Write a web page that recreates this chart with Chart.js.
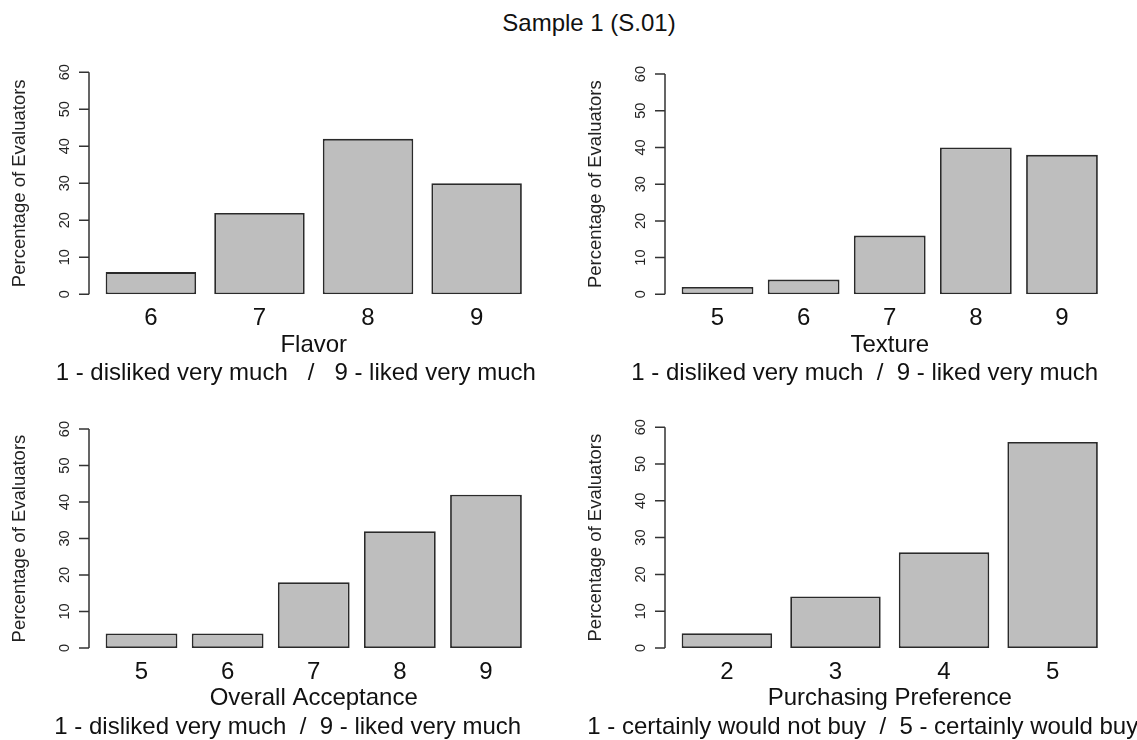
<!DOCTYPE html>
<html>
<head>
<meta charset="utf-8">
<title>Sample 1 (S.01)</title>
<script src="https://cdn.jsdelivr.net/npm/chart.js@4.4.0/dist/chart.umd.min.js"></script>
<style>
  html, body { margin: 0; padding: 0; background: #fff; overflow: hidden; }
  body { width: 1137px; height: 740px; position: relative; font-family: "Liberation Sans", Arial, sans-serif; }
  canvas { position: absolute; }
  .txt { position: absolute; white-space: pre; color: #111; font-size: 24px; line-height: 28px; text-align: center; width: 600px; }
</style>
</head>
<body>
<div class="txt" style="left:289px; top:9px;">Sample 1 (S.01)</div>

<canvas id="flavor" width="568" height="340" style="left:0; top:40px;"></canvas>
<canvas id="texture" width="569" height="340" style="left:568px; top:40px;"></canvas>
<canvas id="overall" width="568" height="345" style="left:0; top:395px;"></canvas>
<canvas id="purchase" width="569" height="345" style="left:568px; top:395px;"></canvas>

<script>
// values (percentage of evaluators)
const flavorLabels = ['6', '7', '8', '9'];
const flavorValues = [6, 22, 42, 30];

const textureLabels = ['5', '6', '7', '8', '9'];
const textureValues = [2, 4, 16, 40, 38];

const overallLabels = ['5', '6', '7', '8', '9'];
const overallValues = [4, 4, 18, 32, 42];

const purchaseLabels = ['2', '3', '4', '5'];
const purchaseValues = [4, 14, 26, 56];

const yTicks = [0, 10, 20, 30, 40, 50, 60];
const yTitle = 'Percentage of Evaluators';

const likedScale = '1 - disliked very much  /  9 - liked very much';
const buyScale = '1 - certainly would not buy  /  5 - certainly would buy';

const panels = [
    { id: 'flavor', name: 'Flavor', note: '1 - disliked very much   /   9 - liked very much', noteShift: -18,
      labels: flavorLabels, values: flavorValues, left: 0, top: 40, axisX: 89, zeroY: 294.3, maxY: 71.7 },
    { id: 'texture', name: 'Texture', note: likedScale, noteShift: -25,
      labels: textureLabels, values: textureValues, left: 568, top: 40, axisX: 665, zeroY: 294.3, maxY: 71.7 },
    { id: 'overall', name: 'Overall Acceptance', note: likedScale, noteShift: -26,
      labels: overallLabels, values: overallValues, left: 0, top: 395, axisX: 89, zeroY: 648, maxY: 425 },
    { id: 'purchase', name: 'Purchasing Preference', note: buyScale, noteShift: -27,
      labels: purchaseLabels, values: purchaseValues, left: 568, top: 395, axisX: 665, zeroY: 648, maxY: 425 }
];

const FONT = '"Liberation Sans", Arial, sans-serif';
const REGION_W = 449.5;   // width of the R plot region
const XAXIS_H = 65;
const TICK_FONT = 14.5;
const YTITLE_FONT = 18.5;

// gap between the R style y axis line and the first category slot
function axisGap(n, width) {
    const range = 1.2 * n - 0.2;
    const unit = width / (1.08 * range);
    return (width - 1.2 * n * unit) / 2;
}

const rAxis = {
    id: 'rAxis',
    afterDraw(chart) {
        const ctx = chart.ctx;
        const area = chart.chartArea;
        const y = chart.scales.y;
        const gap = axisGap(chart.data.labels.length, REGION_W);
        const ax = area.left - gap;
        ctx.save();
        ctx.strokeStyle = '#333';
        ctx.lineWidth = 1.5;
        ctx.beginPath();
        ctx.moveTo(ax, y.getPixelForValue(yTicks[0]));
        ctx.lineTo(ax, y.getPixelForValue(yTicks[yTicks.length - 1]));
        yTicks.forEach(v => {
            const py = y.getPixelForValue(v);
            ctx.moveTo(ax - 10, py);
            ctx.lineTo(ax, py);
        });
        ctx.stroke();
        ctx.restore();
    }
};

panels.forEach(p => {
    const canvas = document.getElementById(p.id);
    const gap = axisGap(p.labels.length, REGION_W);
    const chartLeft = p.axisX + gap - p.left;
    const chartRight = p.axisX + REGION_W - gap - p.left;
    const xBottom = p.zeroY + XAXIS_H - p.top;

    new Chart(canvas.getContext('2d'), {
        type: 'bar',
        data: {
            labels: p.labels,
            datasets: [{
                data: p.values,
                backgroundColor: '#bebebe',
                borderColor: '#2a2a2a',
                borderWidth: 1.8,
                borderSkipped: false,
                categoryPercentage: 1,
                barPercentage: 1 / 1.2
            }]
        },
        options: {
            responsive: false,
            animation: false,
            devicePixelRatio: 1,
            layout: {
                padding: {
                    left: 0,
                    right: canvas.width - chartRight,
                    top: p.maxY - p.top,
                    bottom: canvas.height - xBottom
                }
            },
            plugins: {
                legend: { display: false },
                tooltip: { enabled: false }
            },
            scales: {
                x: {
                    type: 'category',
                    offset: true,
                    grid: { display: false, drawTicks: false },
                    border: { display: false },
                    ticks: {
                        color: '#111',
                        font: { family: FONT, size: 24 },
                        padding: 10,
                        maxRotation: 0,
                        autoSkip: false
                    },
                    title: {
                        display: true,
                        text: p.name,
                        color: '#111',
                        font: { family: FONT, size: 24 },
                        padding: { top: 0, bottom: 0 }
                    },
                    afterFit(scale) { scale.height = XAXIS_H; }
                },
                y: {
                    min: yTicks[0],
                    max: yTicks[yTicks.length - 1],
                    grid: { display: false, drawTicks: false },
                    border: { display: false },
                    ticks: {
                        stepSize: 10,
                        color: '#222',
                        font: { family: FONT, size: TICK_FONT },
                        minRotation: 90,
                        maxRotation: 90,
                        crossAlign: 'center',
                        autoSkip: false,
                        padding: gap + 24 - TICK_FONT * 0.556
                    },
                    title: {
                        display: true,
                        text: yTitle,
                        color: '#222',
                        font: { family: FONT, size: YTITLE_FONT },
                        padding: { top: p.axisX - 69 - p.left - YTITLE_FONT * 0.6, bottom: 0 }
                    },
                    afterFit(scale) { scale.width = chartLeft; }
                }
            }
        },
        plugins: [rAxis]
    });

    // scale legend line under the axis title
    const note = document.createElement('div');
    note.className = 'txt';
    note.textContent = p.note;
    note.style.left = (p.axisX + REGION_W / 2 + p.noteShift - 300) + 'px';
    note.style.top = (p.zeroY + 78 - 14) + 'px';
    document.body.appendChild(note);
});
</script>
</body>
</html>
